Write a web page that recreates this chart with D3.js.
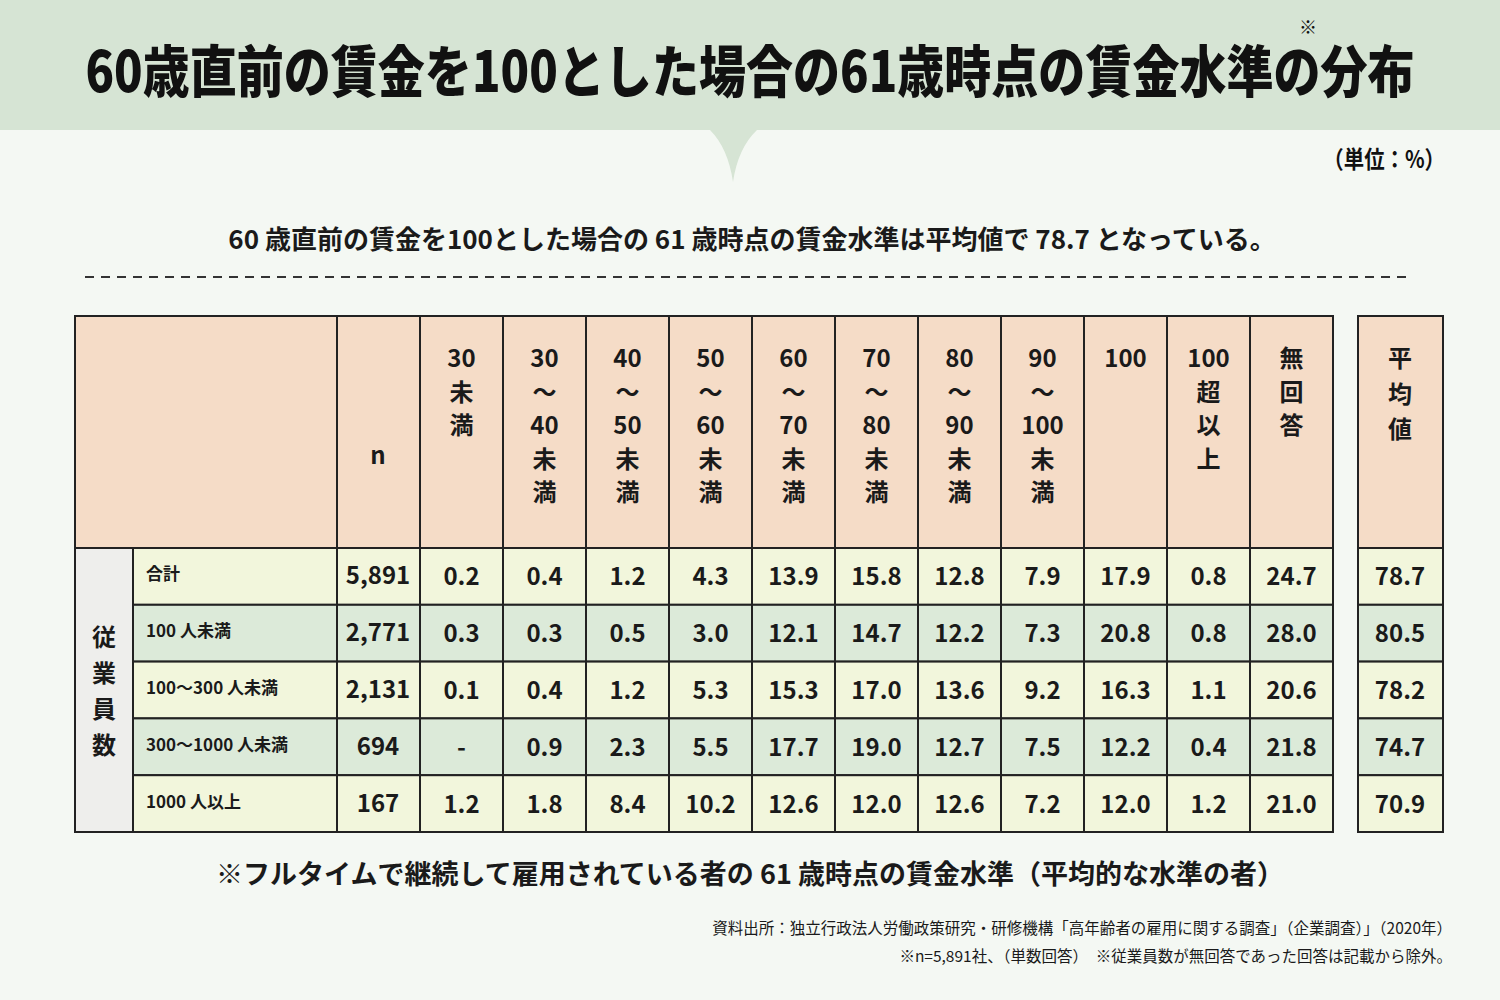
<!DOCTYPE html>
<html><head><meta charset="utf-8">
<script src="https://cdn.jsdelivr.net/npm/d3@7"></script>
<style>body{margin:0;background:#f4f8f3}svg{display:block;font-family:"Noto Sans CJK JP","Noto Sans",sans-serif}</style>
</head><body><svg id="c" width="1500" height="1000"></svg>
<script>
const columns = [["30","未","満"],["30","～","40","未","満"],["40","～","50","未","満"],["50","～","60","未","満"],["60","～","70","未","満"],["70","～","80","未","満"],["80","～","90","未","満"],["90","～","100","未","満"],["100"],["100","超","以","上"],["無","回","答"]];
const rowLabels = ["合計","100 人未満","100～300 人未満","300～1000 人未満","1000 人以上"];
const nValues = ["5,891","2,771","2,131","694","167"];
const values = [
 ["0.2","0.4","1.2","4.3","13.9","15.8","12.8","7.9","17.9","0.8","24.7"],
 ["0.3","0.3","0.5","3.0","12.1","14.7","12.2","7.3","20.8","0.8","28.0"],
 ["0.1","0.4","1.2","5.3","15.3","17.0","13.6","9.2","16.3","1.1","20.6"],
 ["-","0.9","2.3","5.5","17.7","19.0","12.7","7.5","12.2","0.4","21.8"],
 ["1.2","1.8","8.4","10.2","12.6","12.0","12.6","7.2","12.0","1.2","21.0"]];
const averages = ["78.7","80.5","78.2","74.7","70.9"];

const svg = d3.select("#c");
const ink = "#1a1a1a";
svg.append("rect").attr("width",1500).attr("height",130).attr("fill","#d6e4d4");
svg.append("path").attr("d","M710,130 Q728,148 733,182 Q738,148 757,130Z").attr("fill","#d6e4d4");
svg.append("text").attr("x",750).attr("y",92).attr("text-anchor","middle").attr("font-size",56).attr("font-weight",900)
 .attr("transform","translate(750,0) scale(0.84,1) translate(-750,0)").attr("fill","#111").text("60歳直前の賃金を100とした場合の61歳時点の賃金水準の分布");
svg.append("text").attr("x",1308).attr("y",34).attr("text-anchor","middle").attr("font-size",18).attr("fill","#111").text("※");
svg.append("text").attr("x",1445).attr("y",168).attr("text-anchor","end").attr("font-size",24).attr("font-weight",700)
 .attr("transform","translate(1445,0) scale(0.85,1) translate(-1445,0)").attr("fill","#111").text("（単位：%）");
svg.append("text").attr("x",752).attr("y",249).attr("text-anchor","middle").attr("font-size",26).attr("font-weight",700).attr("fill",ink)
 .text("60 歳直前の賃金を100とした場合の 61 歳時点の賃金水準は平均値で 78.7 となっている。");
svg.append("line").attr("x1",85).attr("x2",1412).attr("y1",277).attr("y2",277).attr("stroke","#333").attr("stroke-width",2).attr("stroke-dasharray","9,7");

const x = d3.scaleBand().domain(d3.range(columns.length)).range([420,1333]);
const y = d3.scaleBand().domain(d3.range(rowLabels.length)).range([548,832]);
const hTop = 316, hBot = 548;
const rowFill = i => i%2===0 ? "#f2f6dc" : "#dcead9";
const g = svg.append("g").attr("stroke","#222").attr("stroke-width",2);
// header
g.append("rect").attr("x",75).attr("y",hTop).attr("width",1333-75).attr("height",hBot-hTop).attr("fill","#f5dcc7");
g.append("rect").attr("x",1358).attr("y",hTop).attr("width",85).attr("height",hBot-hTop).attr("fill","#f5dcc7");
// rows
rowLabels.forEach((r,i)=>{
  g.append("rect").attr("x",133).attr("y",y(i)).attr("width",1333-133).attr("height",y.bandwidth()).attr("fill",rowFill(i));
  g.append("rect").attr("x",1358).attr("y",y(i)).attr("width",85).attr("height",y.bandwidth()).attr("fill",rowFill(i));
});
g.append("rect").attr("x",75).attr("y",hBot).attr("width",58).attr("height",832-hBot).attr("fill","#eeeeec");
// vertical lines
[337,...columns.map((c,i)=>x(i))].forEach(v=>g.append("line").attr("x1",v).attr("x2",v).attr("y1",hTop).attr("y2",832));
g.append("rect").attr("x",75).attr("y",hTop).attr("width",1333-75).attr("height",832-hTop).attr("fill","none");

const t = svg.append("g").attr("fill",ink).attr("font-weight",700);
// header texts
t.append("text").attr("x",378).attr("y",464).attr("text-anchor","middle").attr("font-size",24).text("n");
columns.forEach((c,i)=>{
  c.forEach((s,k)=>t.append("text").attr("x",x(i)+x.bandwidth()/2).attr("y",367+k*33.5).attr("text-anchor","middle").attr("font-size",24).text(s));
});
["平","均","値"].forEach((s,k)=>t.append("text").attr("x",1400).attr("y",367+k*35.5).attr("text-anchor","middle").attr("font-size",24).text(s));
["従","業","員","数"].forEach((s,k)=>t.append("text").attr("x",104).attr("y",646+k*36).attr("text-anchor","middle").attr("font-size",24).text(s));
// rows
rowLabels.forEach((r,i)=>{
  const cy = y(i)+y.bandwidth()/2+8;
  t.append("text").attr("x",146).attr("y",cy-4).attr("font-size",17).text(r);
  t.append("text").attr("x",378).attr("y",cy).attr("text-anchor","middle").attr("font-size",24).attr("font-weight",600).text(nValues[i]);
  values[i].forEach((v,j)=>t.append("text").attr("x",x(j)+x.bandwidth()/2).attr("y",cy+1).attr("text-anchor","middle").attr("font-size",24).attr("font-weight",600).text(v));
  t.append("text").attr("x",1400).attr("y",cy+1).attr("text-anchor","middle").attr("font-size",24).attr("font-weight",600).text(averages[i]);
});
svg.append("text").attr("x",750).attr("y",884).attr("text-anchor","middle").attr("font-size",27).attr("font-weight",700).attr("fill",ink)
 .text("※フルタイムで継続して雇用されている者の 61 歳時点の賃金水準（平均的な水準の者）");
const s = svg.append("g").attr("fill",ink).attr("font-size",15.5).attr("text-anchor","end");
s.append("text").attr("x",1452).attr("y",934).text("資料出所：独立行政法人労働政策研究・研修機構「高年齢者の雇用に関する調査」（企業調査）」（2020年）");
s.append("text").attr("x",1452).attr("y",962).text("※n=5,891社、（単数回答）　※従業員数が無回答であった回答は記載から除外。");
</script></body></html>
